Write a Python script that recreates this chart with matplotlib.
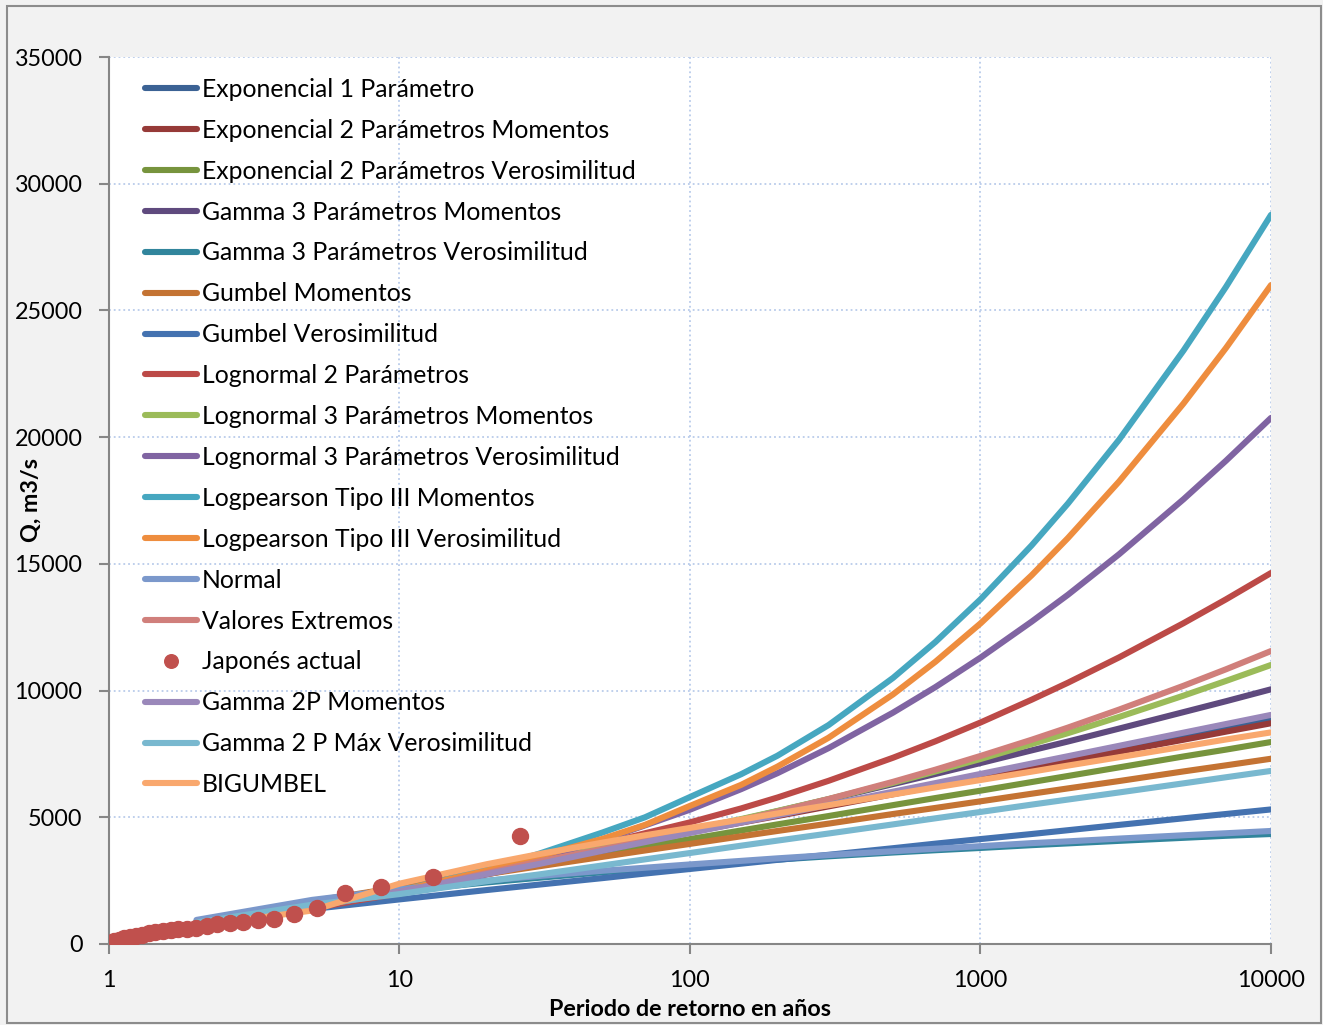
import matplotlib
matplotlib.use("Agg")
import matplotlib.pyplot as plt
from matplotlib.patches import Rectangle

plt.rcParams['font.family'] = ['Lato', 'DejaVu Sans']

# Periodos de retorno de las curvas (años)
periodos = [2, 5, 10, 20, 30, 50, 70, 100, 150, 200, 300, 500, 700,
            1000, 1500, 2000, 3000, 5000, 7000, 10000]

# Caudales estimados por cada distribución (m3/s)
exp_1p = [670, 1550, 2210, 2880, 3270, 3760, 4080, 4430, 4820, 5090, 5480,
          5970, 6300, 6640, 7030, 7300, 7690, 8190, 8510, 8850]
exp_2p_mom = [750, 1600, 2250, 2900, 3280, 3760, 4070, 4410, 4790, 5050, 5430,
              5910, 6230, 6560, 6940, 7210, 7590, 8060, 8380, 8710]
exp_2p_ver = [890, 1650, 2220, 2800, 3140, 3560, 3840, 4140, 4480, 4720, 5050,
              5480, 5760, 6050, 6390, 6630, 6970, 7400, 7670, 7970]
gamma_3p_mom = [780, 1500, 2000, 2750, 3150, 3680, 4050, 4450, 4910, 5240, 5710,
                6310, 6710, 7140, 7640, 7990, 8500, 9150, 9580, 10050]
gamma_3p_ver = [870, 1650, 2080, 2430, 2610, 2830, 2960, 3100, 3240, 3330, 3460,
                3610, 3700, 3790, 3900, 3970, 4070, 4190, 4270, 4340]
gumbel_mom = [870, 1690, 2240, 2760, 3060, 3440, 3690, 3950, 4250, 4460, 4750,
              5130, 5370, 5630, 5930, 6140, 6430, 6810, 7050, 7310]
gumbel_ver = [800, 1380, 1760, 2130, 2340, 2600, 2780, 2960, 3170, 3320, 3520,
              3780, 3960, 4140, 4340, 4490, 4700, 4960, 5130, 5310]
lognormal_2p = [720, 1400, 2000, 2800, 3300, 3950, 4370, 4800, 5350, 5780, 6440,
                7350, 8000, 8740, 9640, 10310, 11310, 12660, 13600, 14640]
lognormal_3p_mom = [760, 1480, 2050, 2850, 3300, 3800, 4150, 4500, 4930, 5250, 5720,
                    6360, 6810, 7300, 7890, 8320, 8960, 9800, 10380, 11010]
lognormal_3p_ver = [740, 1450, 2050, 2850, 3350, 4100, 4680, 5300, 6110, 6740, 7730,
                    9130, 10140, 11300, 12720, 13780, 15380, 17550, 19070, 20760]
logpearson_mom = [700, 1450, 2100, 2950, 3550, 4400, 5000, 5800, 6700, 7430, 8640,
                  10500, 11920, 13600, 15730, 17380, 19900, 23420, 25930, 28770]
logpearson_ver = [720, 1450, 2100, 2900, 3450, 4150, 4700, 5450, 6280, 7000, 8140,
                  9850, 11140, 12650, 14550, 16020, 18250, 21330, 23520, 26000]
normal = [950, 1740, 2160, 2500, 2680, 2890, 3010, 3140, 3280, 3380, 3510,
          3660, 3760, 3860, 3980, 4050, 4160, 4290, 4370, 4460]
valores_extremos = [780, 1500, 2050, 2800, 3250, 3750, 4080, 4450, 4890, 5220, 5720,
                    6400, 6880, 7420, 8060, 8540, 9250, 10190, 10840, 11560]
gamma_2p_mom = [800, 1520, 2050, 2760, 3150, 3680, 4020, 4380, 4790, 5080, 5490,
                6010, 6350, 6710, 7120, 7410, 7820, 8340, 8680, 9040]
gamma_2p_ver = [850, 1550, 1970, 2480, 2740, 3100, 3340, 3590, 3880, 4080, 4360,
                4720, 4960, 5210, 5500, 5700, 5980, 6340, 6580, 6830]
bigumbel = [700, 1320, 2380, 3150, 3540, 4000, 4290, 4580, 4910, 5150, 5480,
            5900, 6180, 6470, 6800, 7040, 7370, 7790, 8070, 8350]

# Serie observada (Japonés actual)
t_obs = [26, 13, 8.67, 6.5, 5.2, 4.33, 3.71, 3.25, 2.89, 2.6, 2.36, 2.17, 2.0,
         1.86, 1.73, 1.63, 1.53, 1.44, 1.37, 1.3, 1.24, 1.18, 1.13, 1.08, 1.04]
q_obs = [4260, 2630, 2240, 2030, 1420, 1200, 995, 935, 860, 830, 770, 700, 650,
         610, 580, 550, 505, 470, 420, 370, 320, 270, 225, 170, 100]

series = [
    ("Exponencial 1 Parámetro", exp_1p, "#3b6294"),
    ("Exponencial 2 Parámetros Momentos", exp_2p_mom, "#963a38"),
    ("Exponencial 2 Parámetros Verosimilitud", exp_2p_ver, "#77943d"),
    ("Gamma 3 Parámetros Momentos", gamma_3p_mom, "#5f4a7e"),
    ("Gamma 3 Parámetros Verosimilitud", gamma_3p_ver, "#31859c"),
    ("Gumbel Momentos", gumbel_mom, "#c47333"),
    ("Gumbel Verosimilitud", gumbel_ver, "#4472b0"),
    ("Lognormal 2 Parámetros", lognormal_2p, "#bc4a47"),
    ("Lognormal 3 Parámetros Momentos", lognormal_3p_mom, "#9bbb59"),
    ("Lognormal 3 Parámetros Verosimilitud", lognormal_3p_ver, "#8064a2"),
    ("Logpearson Tipo III Momentos", logpearson_mom, "#46a7c0"),
    ("Logpearson Tipo III Verosimilitud", logpearson_ver, "#ee8d3e"),
    ("Normal", normal, "#7b98cb"),
    ("Valores Extremos", valores_extremos, "#d07f7b"),
    ("Gamma 2P Momentos", gamma_2p_mom, "#9a88ba"),
    ("Gamma 2 P Máx Verosimilitud", gamma_2p_ver, "#79b8cf"),
    ("BIGUMBEL", bigumbel, "#f9a86e"),
]

fig = plt.figure(figsize=(13.23, 10.25), dpi=100, facecolor="#f2f2f2")
ax = fig.add_axes([109 / 1323, 1 - 944 / 1025, 1162 / 1323, 887 / 1025])
ax.set_facecolor("white")

# Borde exterior del gráfico
fig.patches.append(Rectangle((7 / 1323, 2 / 1025), 1314 / 1323, 1017 / 1025,
                             transform=fig.transFigure, fill=False,
                             edgecolor="#8c8c8c", linewidth=1.5))

for i, (nombre, valores, color) in enumerate(series):
    if i == 14:
        ax.plot(t_obs, q_obs, linestyle="none", marker="o", markersize=11.5,
                color="#c0504d", label="Japonés actual", zorder=30)
    ax.plot(periodos, valores, color=color, linewidth=4.4,
            solid_capstyle="round", solid_joinstyle="round",
            label=nombre, zorder=10 + i)

ax.set_xscale("log")
ax.set_xlim(1, 10000)
ax.set_ylim(0, 35000)
ax.set_xticks([1, 10, 100, 1000, 10000])
ax.set_xticklabels(["1", "10", "100", "1000", "10000"])
ax.minorticks_off()
ax.set_yticks(range(0, 35001, 5000))

ax.grid(True, color="#b9cbea", linestyle=":", linewidth=1.3)
ax.set_axisbelow(True)
for s in ["top", "right"]:
    ax.spines[s].set_visible(False)
for s in ["left", "bottom"]:
    ax.spines[s].set_color("#868686")
    ax.spines[s].set_linewidth(1.5)
ax.tick_params(axis="both", colors="#868686", width=1.5, length=7,
               labelsize=16.8, labelcolor="black")
ax.tick_params(axis="y", pad=12)
ax.tick_params(axis="x", pad=12)

ax.set_xlabel("Periodo de retorno en años", fontsize=16.8, fontweight="bold")
ax.set_ylabel("Q, m3/s", fontsize=16.8, fontweight="bold")
ax.xaxis.set_label_coords(0.5, -0.062)
ax.yaxis.set_label_coords(-0.058, 0.5)

ax.legend(loc="upper left", bbox_to_anchor=(0.031, 0.9765), frameon=False,
          fontsize=17.8, handlelength=2.1, handletextpad=0.2,
          labelspacing=0.724, borderpad=0, borderaxespad=0, numpoints=1,
          markerscale=0.85)

plt.savefig("out.png", dpi=100, facecolor=fig.get_facecolor())
plt.close()
